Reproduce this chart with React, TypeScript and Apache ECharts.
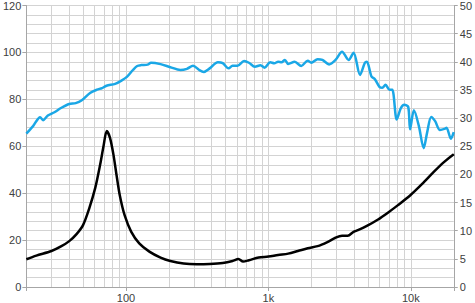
import React, { useEffect, useRef } from "react";
import * as echarts from "echarts";

const splFreq = [20, 22.3, 25, 26.2, 28.3, 31.5, 35, 40, 44.4, 49, 56, 62.6, 68, 73, 84, 93, 102, 112, 120, 128, 142, 150, 175, 205, 241, 268, 296, 327, 352, 387, 442, 478, 526, 560, 607, 675, 730, 804, 880, 940, 1030, 1100, 1170, 1236, 1306, 1377, 1530, 1700, 1888, 2000, 2214, 2394, 2666, 2958, 3288, 3658, 3960, 4396, 4756, 4910, 5292, 5574, 6038, 6300, 6638, 7072, 7400, 7960, 8512, 8974, 9580, 9870, 10500, 11380, 12300, 13000, 13900, 14800, 16000, 17400, 17800, 19100, 20000];
const splDb = [65.4, 68.6, 72.4, 71.1, 73.1, 74.5, 76.3, 78.0, 78.4, 79.6, 82.7, 84.1, 84.8, 85.8, 86.6, 88.0, 89.7, 92.5, 94.2, 94.6, 94.8, 95.6, 95.0, 93.7, 92.5, 93.0, 94.3, 92.5, 91.7, 93.2, 95.8, 95.4, 93.2, 94.3, 94.3, 96.3, 95.6, 93.9, 94.5, 93.5, 95.8, 95.4, 96.0, 95.8, 96.8, 95.1, 96.0, 94.2, 96.5, 95.6, 97.1, 96.8, 94.9, 96.8, 100.3, 96.8, 99.9, 90.4, 95.6, 96.0, 89.7, 88.7, 85.2, 84.9, 86.2, 84.1, 84.1, 71.4, 76.3, 77.7, 76.8, 67.2, 75.3, 68.6, 59.2, 65.8, 72.5, 70.7, 66.9, 67.5, 67.9, 63.2, 66.0];

const impFreq = [20, 23.5, 30, 35, 40, 45, 50, 55, 60.9, 66, 69.6, 73.4, 77.3, 81.6, 86, 90.6, 98, 109, 124, 146, 175, 205, 254, 314, 387, 478, 560, 616, 664, 730, 855, 1000, 1170, 1377, 1612, 1888, 2214, 2594, 2958, 3288, 3600, 3960, 4250, 4910, 5886, 6896, 8076, 9870, 12000, 14420, 16900, 20000];
const impOhm = [4.93, 5.58, 6.39, 7.2, 8.15, 9.4, 11.0, 13.8, 17.6, 21.8, 25.0, 27.7, 26.5, 23.6, 19.8, 16.25, 12.7, 9.8, 7.75, 6.29, 5.23, 4.63, 4.17, 4.05, 4.1, 4.28, 4.63, 4.98, 4.52, 4.75, 5.23, 5.4, 5.69, 5.93, 6.39, 6.87, 7.25, 7.98, 8.75, 9.1, 9.1, 9.8, 10.1, 10.86, 12.0, 13.2, 14.5, 16.25, 18.3, 20.4, 22.1, 23.6];

const gridFreqs = [30, 40, 50, 60, 70, 80, 90, 200, 300, 400, 500, 600, 700, 800, 900, 2000, 3000, 4000, 5000, 6000, 7000, 8000, 9000];
const xTickLabels: Record<number, string> = { 100: "100", 1000: "1k", 10000: "10k" };

const GRID = "#d3d3d3";
const AXIS = "#a6a6a6";
const TEXT = "#404040";
const FONT = "Liberation Sans";

export default function App() {
  const ref = useRef<HTMLDivElement>(null);
  useEffect(() => {
    if (!ref.current) return;
    const chart = echarts.init(ref.current, undefined, { renderer: "svg" });
    const labelStyle = { color: TEXT, fontFamily: FONT, fontSize: 11 };
    chart.setOption({
      animation: false,
      backgroundColor: "#ffffff",
      grid: { left: 23, right: 17, top: 5, bottom: 14, containLabel: false },
      xAxis: {
        type: "log",
        logBase: 10,
        min: 20,
        max: 20000,
        axisLine: { show: true, lineStyle: { color: AXIS, width: 1 } },
        axisTick: { show: true, length: 4, lineStyle: { color: AXIS } },
        axisLabel: {
          ...labelStyle,
          margin: 5,
          showMinLabel: true,
          showMaxLabel: true,
          formatter: (v: number) => xTickLabels[Math.round(v)] ?? "",
        },
        splitLine: { show: true, lineStyle: { color: GRID, width: 1 } },
      },
      yAxis: [
        {
          type: "value",
          min: 0,
          max: 120,
          interval: 20,
          position: "left",
          axisLine: { show: true, lineStyle: { color: AXIS, width: 1 } },
          axisTick: { show: true, length: 4, lineStyle: { color: AXIS } },
          axisLabel: { ...labelStyle, margin: 5 },
          splitLine: { show: true, lineStyle: { color: GRID, width: 1 } },
          minorTick: { show: false, splitNumber: 5 },
          minorSplitLine: { show: true, lineStyle: { color: GRID, width: 1 } },
        },
        {
          type: "value",
          min: 0,
          max: 50,
          interval: 5,
          position: "right",
          axisLine: { show: true, lineStyle: { color: AXIS, width: 1 } },
          axisTick: { show: true, length: 4, lineStyle: { color: AXIS } },
          axisLabel: { ...labelStyle, margin: 6 },
          splitLine: { show: false },
        },
      ],
      series: [
        {
          type: "line",
          name: "grid",
          data: [],
          silent: true,
          z: 1,
          markLine: {
            silent: true,
            symbol: ["none", "none"],
            z: 1,
            label: { show: false },
            lineStyle: { color: GRID, width: 1, type: "solid" },
            emphasis: { disabled: true },
            data: gridFreqs.map((f) => ({ xAxis: f })),
          },
        },
        {
          type: "line",
          name: "SPL",
          yAxisIndex: 0,
          z: 3,
          showSymbol: false,
          smooth: 0.3,
          lineStyle: { color: "#1aa7e6", width: 2.5 },
          data: splFreq.map((f, i) => [f, splDb[i]]),
        },
        {
          type: "line",
          name: "Impedance",
          yAxisIndex: 1,
          z: 4,
          showSymbol: false,
          smooth: 0.3,
          lineStyle: { color: "#000000", width: 2.5 },
          data: impFreq.map((f, i) => [f, impOhm[i]]),
        },
      ],
    });
    return () => chart.dispose();
  }, []);
  return <div ref={ref} style={{ width: 475, height: 303, position: "absolute", left: 0, top: 0 }} />;
}
